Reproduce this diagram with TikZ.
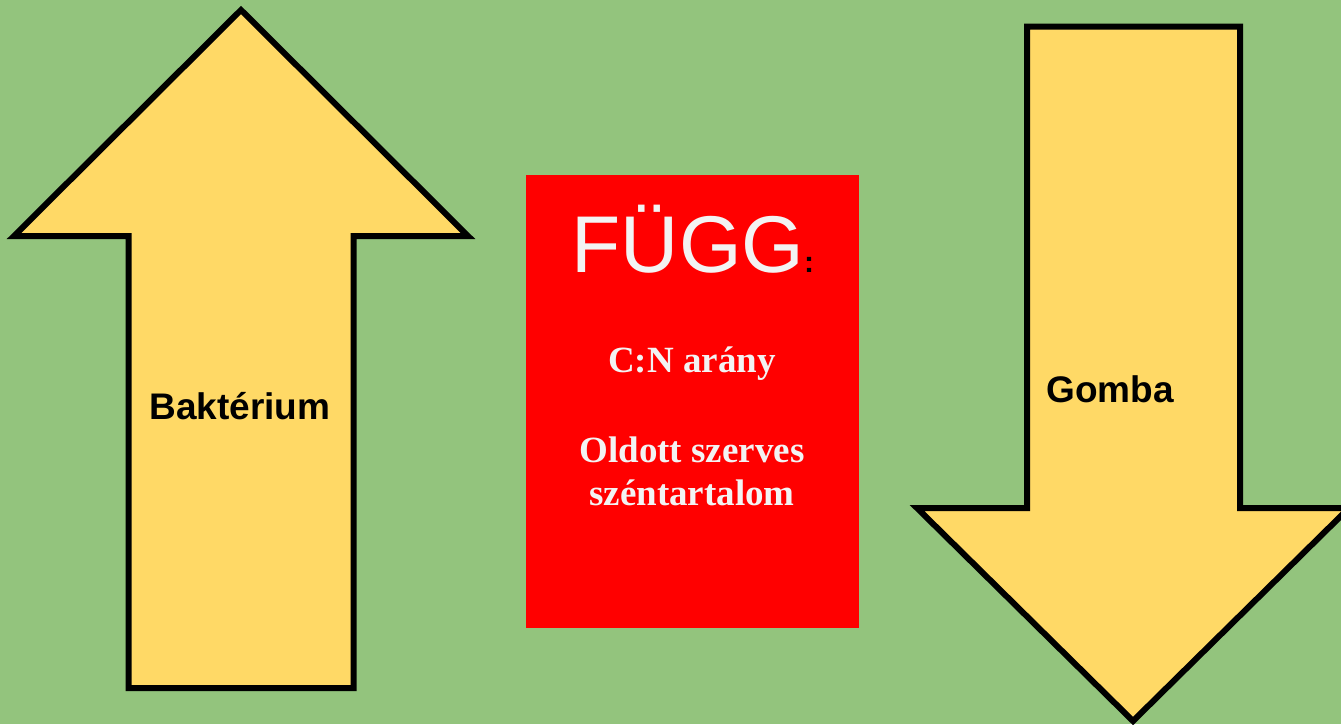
\documentclass[tikz,border=0pt]{standalone}
\usepackage{fontspec}
\setmainfont{Liberation Serif}
\newfontfamily\arial{Liberation Sans}
\definecolor{bggreen}{HTML}{93C47D}
\definecolor{arrowyellow}{HTML}{FFD966}
\definecolor{boxred}{HTML}{FF0000}
\definecolor{offwhite}{HTML}{F3F3F3}
\begin{document}
\begin{tikzpicture}[x=1pt,y=-1pt,
  arrowshape/.style={fill=arrowyellow,draw=black,line width=6pt,miter limit=10},
  arrowlabel/.style={font=\arial\bfseries\fontsize{37}{41}\selectfont,text=black,inner sep=0pt,anchor=base},
  boxtext/.style={font=\bfseries\fontsize{37}{43}\selectfont,text=offwhite,inner sep=0pt,anchor=base}]
  % background
  \fill[bggreen] (0,0) rectangle (1341,724);
  \useasboundingbox (0,0) rectangle (1341,724);

  % upward arrow (left)
  \draw[arrowshape] (241,10) -- (468,236) -- (353.5,236) -- (353.5,688)
        -- (128.5,688) -- (128.5,236) -- (14,236) -- cycle;
  \node[arrowlabel] (bakt) at (240,419) {Baktérium};

  % downward arrow (right)
  \draw[arrowshape] (1027,26.5) -- (1240,26.5) -- (1240,508) -- (1349,508)
        -- (1133,721) -- (917,508) -- (1027,508) -- cycle;
  \node[arrowlabel] (gomba) at (1110,402) {Gomba};

  % central red box
  \node[fill=boxred,minimum width=333pt,minimum height=453pt,inner sep=0pt,
        anchor=north west] (box) at (526,175) {};
  \node[font=\arial\fontsize{80.5}{88}\selectfont,text=offwhite,inner sep=0pt,
        anchor=base west] (fugg) at (571.5,272)
        {FÜGG{\color{black}\bfseries\fontsize{30}{34}\selectfont:}};
  \node[boxtext] (cn) at (692,372) {C:N arány};
  \node[boxtext] (oldott) at (692,462) {Oldott szerves};
  \node[boxtext] (szen) at (692,505) {széntartalom};
\end{tikzpicture}
\end{document}
